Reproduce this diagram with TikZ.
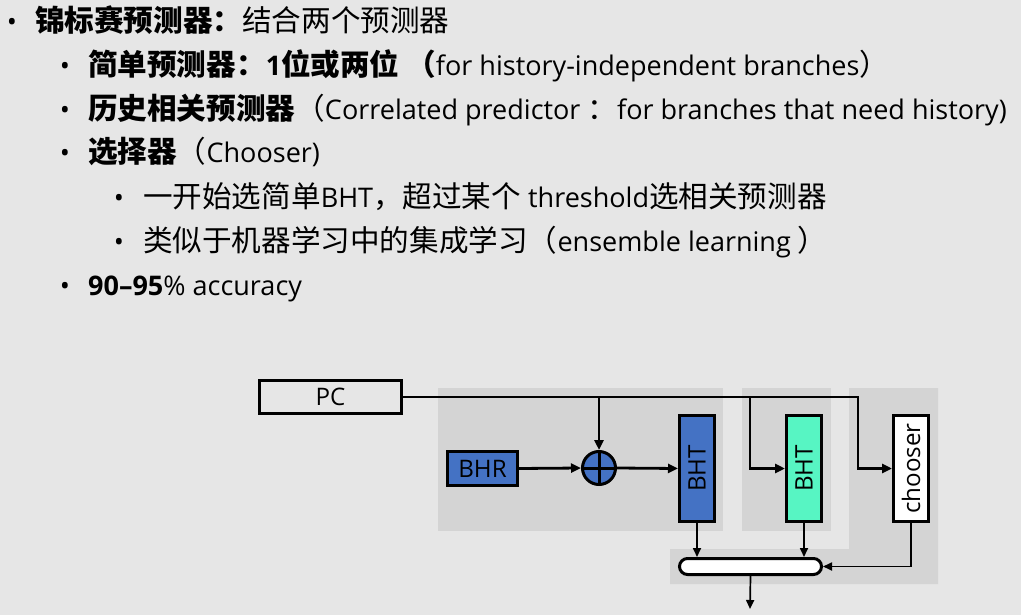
\documentclass[tikz,border=0pt]{standalone}
\usepackage{fontspec}
\setmainfont{Open Sans}[Scale=0.965]
\newfontfamily\cjk{Noto Sans CJK SC}[Scale=1.057]
\usetikzlibrary{arrows.meta,shapes.misc}
\definecolor{bg}{RGB}{230,230,230}
\definecolor{panel}{RGB}{212,212,212}
\definecolor{blueF}{RGB}{68,114,196}
\definecolor{mint}{RGB}{87,245,195}
\begin{document}
\begin{tikzpicture}[x=1pt,y=-1pt,
  txt/.style={anchor=west,inner sep=0pt,text height=24.6pt,text depth=3.4pt,font=\fontsize{28}{34}\selectfont},
  bul/.style={anchor=center,inner sep=0pt,text height=24.6pt,text depth=3.4pt,font=\fontsize{28}{34}\selectfont},
  box/.style={draw=black,line width=3pt,inner sep=0pt},
  lbl/.style={inner sep=0pt,font=\fontsize{25}{29}\selectfont},
  wire/.style={line width=2.8pt,-{Triangle[length=10pt,width=9pt]}},
  thinw/.style={line width=1.7pt,-{Triangle[length=9pt,width=8pt]}}
]
\useasboundingbox (0,0) rectangle (1021,615);
\fill[bg] (0,0) rectangle (1021,615);

% text
\node[bul] (b1) at (12,20.5) {•};
\node[txt] (l1) at (35,20.5) {{\cjk\bfseries 锦标赛预测器：}{\cjk 结合两个预测器}};
\node[bul] (b2) at (65,64.5) {•};
\node[txt] (l2) at (88,64.5) {{\cjk\bfseries 简单预测器：}{\bfseries 1}{\cjk\bfseries 位或两位 （}for history-independent branches{\cjk ）}};
\node[bul] (b3) at (65,108.5) {•};
\node[txt] (l3) at (88,108.5) {{\cjk\bfseries 历史相关预测器}{\cjk （}Correlated predictor {\cjk ：}for branches that need history)};
\node[bul] (b4) at (65,152) {•};
\node[txt] (l4) at (88,152) {{\cjk\bfseries 选择器}{\cjk （}Chooser)};
\node[bul] (b5) at (119,197) {•};
\node[txt] (l5) at (143,197) {{\cjk 一开始选简单}BHT{\cjk ，超过某个} threshold{\cjk 选相关预测器}};
\node[bul] (b6) at (119,241) {•};
\node[txt] (l6) at (143,241) {{\cjk 类似于机器学习中的集成学习（}ensemble learning {\cjk ）}};
\node[bul] (b7) at (65,285) {•};
\node[txt] (l7) at (88,285) {{\bfseries 90–95}\% accuracy};

% panels
\fill[panel] (438,388) rectangle (723,531);
\fill[panel] (742,388) rectangle (831,531);
\fill[panel] (670,549) -- (849,549) -- (849,388) -- (938,388) -- (938,584) -- (670,584) -- cycle;

% nodes
\node[box,fill=bg,minimum width=142pt,minimum height=33pt] (pc) at (330.5,397) {};
\node[lbl] (pct) at (pc.center) {PC};
\node[box,fill=blueF,minimum width=70pt,minimum height=34pt] (bhr) at (482.5,468.5) {};
\node[lbl] (bhrt) at (bhr.center) {BHR};
\node[box,circle,fill=blueF,minimum size=33pt] (xor) at (599,468) {};
\draw[line width=3pt] (xor.north) -- (xor.south) (xor.west) -- (xor.east);
\node[box,fill=blueF,minimum width=35pt,minimum height=106pt] (bht1) at (697,468.5) {};
\node[lbl,rotate=90] (bht1t) at (bht1.center) {BHT};
\node[box,fill=mint,minimum width=35pt,minimum height=106pt] (bht2) at (804,468.5) {};
\node[lbl,rotate=90] (bht2t) at (bht2.center) {BHT};
\node[box,fill=white,minimum width=35pt,minimum height=106pt] (ch) at (911,468.5) {};
\node[lbl,rotate=90] (cht) at (ch.center) {chooser};
\node[box,rounded rectangle,fill=white,minimum width=142pt,minimum height=16pt] (mux) at (750.5,566.5) {};

% connectors
\coordinate (j1) at (599,397);
\coordinate (j2) at (750,397);
\coordinate (j3) at (858,397);
\coordinate (out) at (750,609);
\draw[wire] (pc.east) -- (j3) |- (ch.west);
\draw[wire] (j1) -- (xor.north);
\draw[wire] (j2) |- (bht2.west);
\draw[wire] (bhr.east) -- (xor.west);
\draw[wire] (xor.east) -- (bht1.west);
\draw[thinw] (bht1.south) -- (bht1.south |- mux.north);
\draw[thinw] (bht2.south) -- (bht2.south |- mux.north);
\draw[thinw] (ch.south) |- (mux.east);
\draw[thinw] (mux.south) -- (out);
\end{tikzpicture}
\end{document}
